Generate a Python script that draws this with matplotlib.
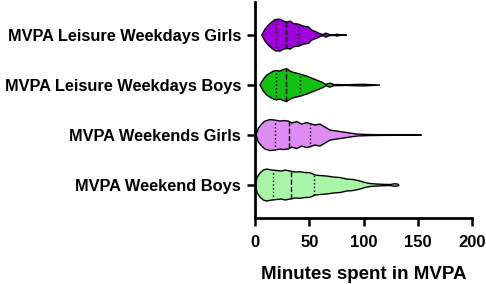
import numpy as np
import matplotlib
matplotlib.use("Agg")
import matplotlib.pyplot as plt

plt.rcParams['font.family'] = ['Liberation Sans', 'DejaVu Sans']
plt.rcParams['font.weight'] = 'bold'

# groups, bottom to top
groups = ['MVPA Weekend Boys', 'MVPA Weekends Girls',
          'MVPA Leisure Weekdays Boys', 'MVPA Leisure Weekdays Girls']
colors = ['#a8f5a8', '#dc8cf2', '#14c014', '#a000dc']

# violin outline: minutes and relative half-width
boys_we_x = [0, 2.1, 4.6, 7.7, 10.8, 15.4, 20, 24.6, 27.7, 32.3, 36.9, 41.5, 46.1,
             50.7, 55.3, 59.9, 66, 72.2, 78.4, 84.5, 90.6, 96.8, 101.4, 106, 112.1,
             118.2, 124.4, 129, 132, 132.5]
boys_we_w = [0, 8, 12, 15, 16, 15, 14.5, 14, 15, 14, 13, 13.3, 12.5,
             12.3, 10, 9.5, 9, 8, 7.5, 6, 5.5, 4, 2.5, 1.5, 1,
             0.7, 0.5, 1.3, 0.8, 0]
boys_we_q = [16.9, 32.9, 54.4]

girls_we_x = [0.9, 3.1, 6.2, 9.2, 13.8, 18.4, 23, 26.1, 30.7, 33.8, 38.4, 43, 47.7,
              50.7, 55.3, 59.9, 64.5, 69.1, 75.3, 81.4, 87.6, 93.7, 99.8, 106, 112,
              153.5]
girls_we_w = [0, 7, 11, 14, 15.5, 15, 14, 14.5, 14, 12, 13.5, 11, 12.5,
              11.5, 10, 11, 8, 5, 4, 3, 2, 1, 0.7, 0.5, 0.4,
              0]
girls_we_q = [18.4, 31.6, 50.7]

boys_wd_x = [4.6, 7.7, 10.8, 13.8, 16.9, 20, 23, 26.1, 29.2, 32.3, 35.3, 40, 43,
             47.7, 52.3, 56.9, 61.5, 65.4, 69.1, 72.8, 78.4, 84.5, 90.6, 99.8, 115.2]
boys_wd_w = [0, 6, 10, 12, 14, 14.5, 14, 15.5, 16.5, 14, 12.7, 11.5, 10.5,
             9, 7, 5, 3, 0.7, 2, 0.5, 0.5, 0.3, 0.6, 0.8, 0]
boys_wd_q = [19.5, 28.8, 41.5]

girls_wd_x = [6.2, 9.2, 12.3, 15.4, 18.4, 23, 26, 29.2, 32.3, 35.3, 40, 44.6,
              49.2, 52.3, 56.9, 60, 63, 65.4, 68.5, 73.8, 75.6, 78.4, 84.5]
girls_wd_w = [0, 6, 10, 13, 15.5, 16, 14.3, 13, 14, 11.7, 11, 9,
              8.3, 5, 3, 1.3, 0.6, 2, 0.5, 0.3, 1, 0.2, 0]
girls_wd_q = [19.6, 28.2, 40]

xs = [boys_we_x, girls_we_x, boys_wd_x, girls_wd_x]
ws = [boys_we_w, girls_we_w, boys_wd_w, girls_wd_w]
qs = [boys_we_q, girls_we_q, boys_wd_q, girls_wd_q]

fig = plt.figure(figsize=(4.86, 2.84), dpi=100)
ax = fig.add_axes([0.5247, 0.2324, 0.4465, 0.76])

scale = 1 / 50.0
for i in range(4):
    x = np.array(xs[i])
    w = np.array(ws[i]) * scale
    px = np.concatenate([x, x[::-1]])
    py = np.concatenate([i + w, (i - w)[::-1]])
    ax.fill(px, py, facecolor=colors[i], edgecolor='black', linewidth=1.0, zorder=2)
    for k, q in enumerate(qs[i]):
        h = np.interp(q, x, w)
        ax.plot([q, q], [i - h, i + h], color='black', linewidth=1.0,
                linestyle='--' if k == 1 else ':', zorder=3)

ax.set_xlim(0, 200)
ax.set_ylim(-0.66, 3.66)
ax.set_xticks([0, 50, 100, 150, 200])
ax.set_yticks(range(4))
ax.set_yticklabels(groups)
ax.spines['top'].set_visible(False)
ax.spines['right'].set_visible(False)
for s in ['left', 'bottom']:
    ax.spines[s].set_linewidth(2)
ax.tick_params(axis='both', width=1.8, length=6, direction='out')
ax.tick_params(axis='x', labelsize=12, pad=6)
ax.tick_params(axis='y', labelsize=11.8, pad=4)
ax.set_xlabel('Minutes spent in MVPA', fontsize=13.5, fontweight='bold', labelpad=12)

fig.savefig('out.png', dpi=100)
